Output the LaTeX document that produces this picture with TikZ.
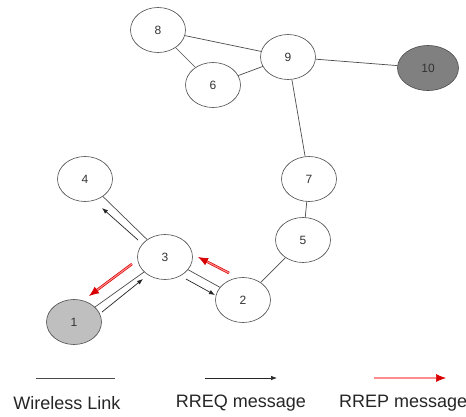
\documentclass[tikz,border=0pt]{standalone}
\usepackage{fontspec}
\setmainfont{Liberation Sans}
\usetikzlibrary{arrows.meta,shapes.geometric}
\begin{document}
\begin{tikzpicture}[x=1pt,y=-1pt,
  nd/.style={ellipse,draw=black!70,line width=0.6pt,fill=white,minimum width=55pt,minimum height=45pt,inner sep=0pt,font=\fontsize{12}{13}\selectfont,text=black!80},
  link/.style={draw=black!70,line width=0.7pt},
  rreq/.style={draw=black!85,line width=0.7pt,-{Latex[length=6pt,width=4.5pt]}},
  rrep/.style={draw=red!85!black,line width=0.7pt,double=red!45,double distance=1.1pt,-{Latex[length=10pt,width=8pt]}},
  lbl/.style={font=\fontsize{18}{19}\selectfont,text=black!85}]
\useasboundingbox (0,0) rectangle (466,416);
\fill[white] (0,0) rectangle (466,416);
% nodes
\node[nd] (n8) at (158,30) {8};
\node[nd] (n9) at (288,57) {9};
\node[nd] (n6) at (213,85) {6};
\node[nd,fill=gray,minimum width=61pt] (n10) at (428,68) {10};
\node[nd] (n7) at (309,179) {7};
\node[nd] (n5) at (303,240) {5};
\node[nd] (n4) at (85,179) {4};
\node[nd] (n3) at (165,257) {3};
\node[nd] (n2) at (243,300) {2};
\node[nd,fill=gray!50] (n1) at (74,322) {1};
% links
\draw[link] (n8) -- (n9);
\draw[link] (n8) -- (n6);
\draw[link] (n6) -- (n9);
\draw[link] (n9) -- (n10);
\draw[link] (n9) -- (n7);
\draw[link] (n7) -- (n5);
\draw[link] (n5) -- (n2);
\draw[link] (n3) -- (n2);
\draw[link] (n3) -- (n4);
\draw[link] (n3) -- (n1);
% message arrows
\coordinate (q34a) at (138,240); \coordinate (q34b) at (102,208);
\coordinate (q13a) at (102,312); \coordinate (q13b) at (143,279);
\coordinate (q32a) at (186,279); \coordinate (q32b) at (215,295);
\coordinate (p31a) at (132,264); \coordinate (p31b) at (89,296);
\coordinate (p23a) at (229,273); \coordinate (p23b) at (198,257);
\draw[rreq] (q34a) -- (q34b);
\draw[rreq] (q13a) -- (q13b);
\draw[rreq] (q32a) -- (q32b);
\draw[rrep] (p31a) -- (p31b);
\draw[rrep] (p23a) -- (p23b);
% legend
\coordinate (la) at (36,378); \coordinate (lb) at (115,378);
\coordinate (ra) at (205,378); \coordinate (rb) at (277,378);
\coordinate (pa) at (374,378); \coordinate (pb) at (446,378);
\draw[link] (la) -- (lb);
\draw[rreq] (ra) -- (rb);
\draw[rrep] (pa) -- (pb);
\node[lbl] (t1) at (67,403) {Wireless Link};
\node[lbl] (t2) at (241,403) {RREQ message};
\node[lbl,anchor=west,inner sep=0pt] (t3) at (339,403) {RREP message};
\end{tikzpicture}
\end{document}
